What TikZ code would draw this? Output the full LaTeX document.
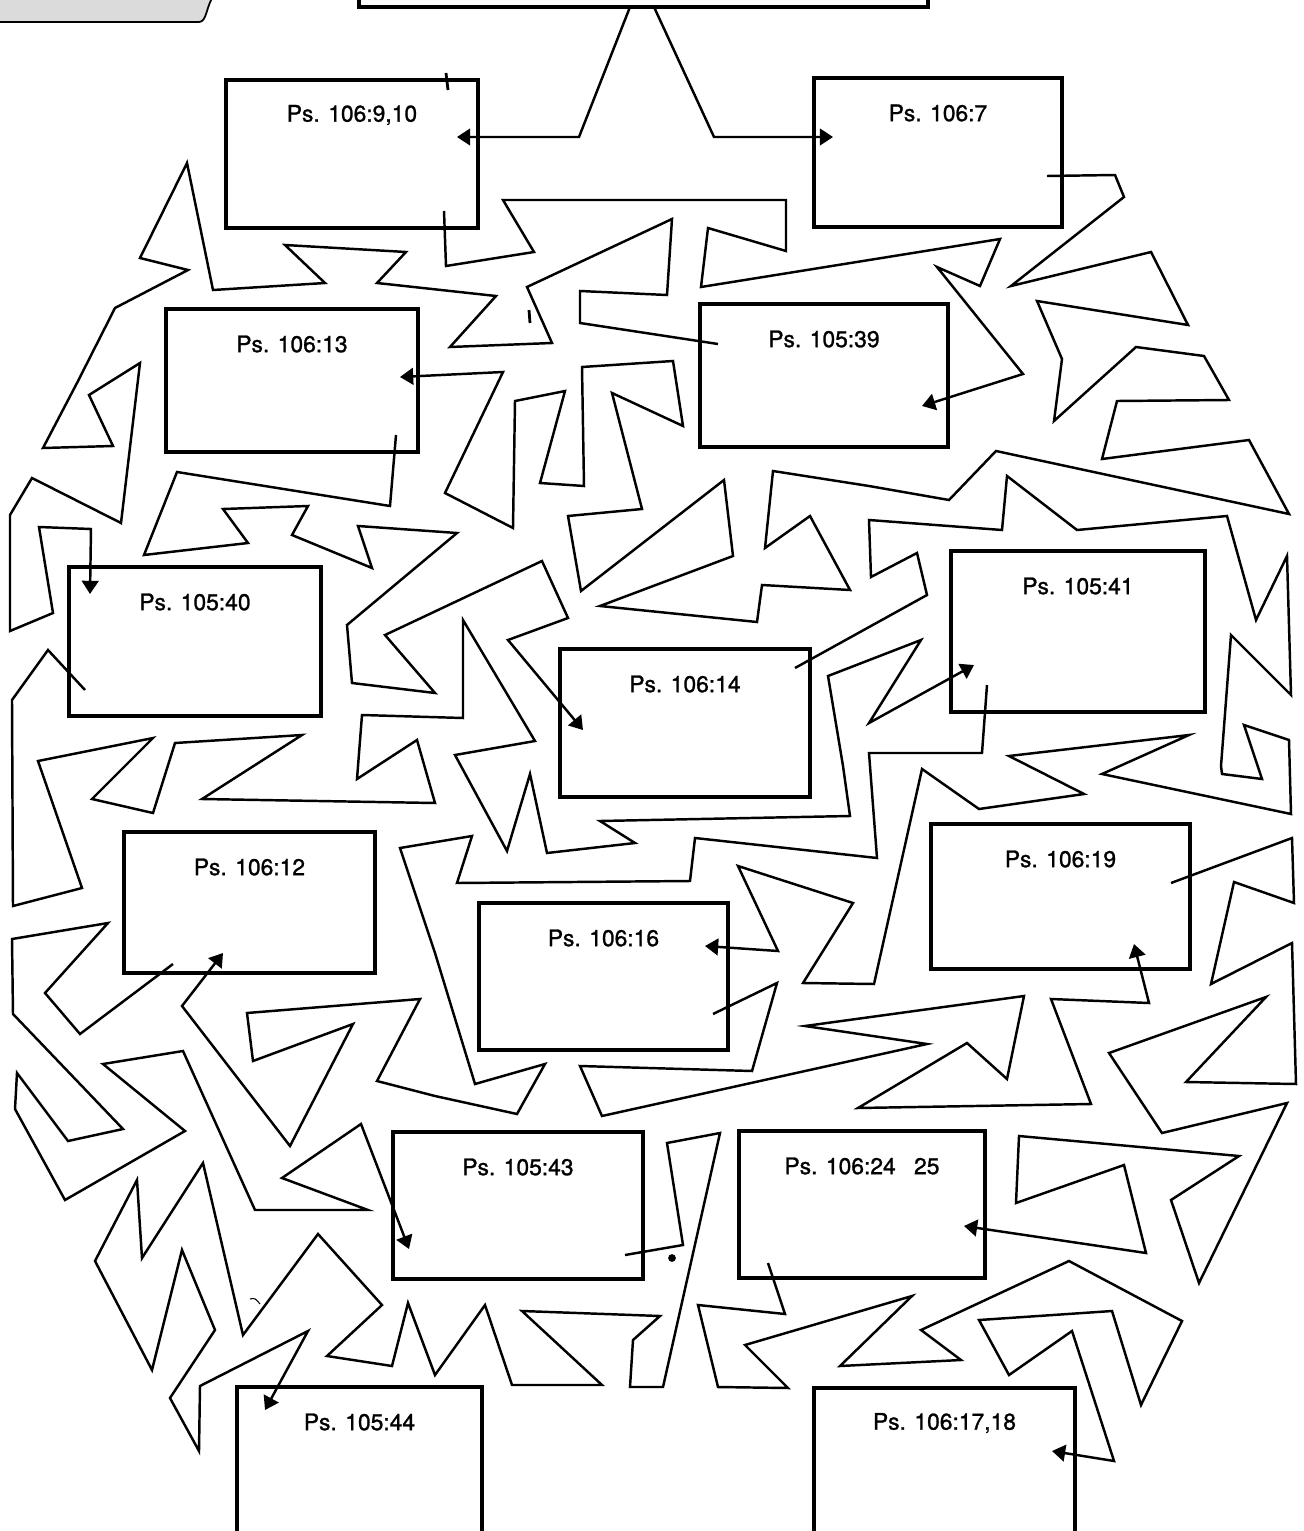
\documentclass[tikz,border=0pt]{standalone}
\usepackage{fontspec}
\setmainfont{TeX Gyre Heros}
\newfontfamily\lblfont{TeX Gyre Heros}[FakeBold=1.2]
\usetikzlibrary{arrows.meta}

\begin{document}
\begin{tikzpicture}[
	x=0.02cm, y=-0.02cm,
	box/.style={draw, line width=2.3pt, outer sep=0pt, inner sep=0pt, anchor=north west},
	lbl/.style={anchor=center, yshift=-0.7cm, font=\lblfont\fontsize{13}{15}\selectfont},
	route/.style={line width=1.4pt, -{Triangle[length=7.5pt, width=9.5pt]}},
	speck/.style={line width=1.6pt},
	tab/.style={draw, fill=black!14, line width=1pt}
	]
	\useasboundingbox (0,0) rectangle (1304,1531);
	\clip (0,0) rectangle (1304,1531);

	% page tab and the box above
	\draw[tab] (-5,-5) -- (-5,22) -- (199,22) .. controls (207,22) and (206,6) .. (214,-5) -- cycle;
	\node[box, minimum width=11.38cm, minimum height=3.14cm] (top) at (359,-150) {};

	\node[box, minimum width=5.04cm, minimum height=2.96cm, label={[lbl]north:{Ps. 106:9,10}}] (p910) at (226,80) {};
	\node[box, minimum width=4.96cm, minimum height=2.98cm, label={[lbl]north:{Ps. 106:7}}] (p7) at (814,78) {};
	\node[box, minimum width=5.04cm, minimum height=2.86cm, label={[lbl]north:{Ps. 106:13}}] (p13) at (166,309) {};
	\node[box, minimum width=4.96cm, minimum height=2.86cm, label={[lbl]north:{Ps. 105:39}}] (p39) at (700,304) {};
	\node[box, minimum width=5.04cm, minimum height=2.98cm, label={[lbl]north:{Ps. 105:40}}] (p40) at (69,567) {};
	\node[box, minimum width=5.00cm, minimum height=2.96cm, label={[lbl]north:{Ps. 106:14}}] (p14) at (560,649) {};
	\node[box, minimum width=5.08cm, minimum height=3.22cm, label={[lbl]north:{Ps. 105:41}}] (p41) at (951,551) {};
	\node[box, minimum width=5.02cm, minimum height=2.82cm, label={[lbl]north:{Ps. 106:12}}] (p12) at (124,832) {};
	\node[box, minimum width=4.98cm, minimum height=2.94cm, label={[lbl]north:{Ps. 106:16}}] (p16) at (479,903) {};
	\node[box, minimum width=5.18cm, minimum height=2.90cm, label={[lbl]north:{Ps. 106:19}}] (p19) at (931,824) {};
	\node[box, minimum width=5.00cm, minimum height=2.94cm, label={[lbl]north:{Ps. 105:43}}] (p43) at (393,1132) {};
	\node[box, minimum width=4.92cm, minimum height=2.94cm, label={[lbl]north:{Ps. 106:24\hspace{0.8em}25}}] (p2425) at (739,1131) {};
	\node[box, minimum width=4.90cm, minimum height=3.60cm, label={[lbl]north:{Ps. 105:44}}] (p44) at (237,1387) {};
	\node[box, minimum width=5.22cm, minimum height=3.60cm, label={[lbl]north:{Ps. 106:17,18}}] (p1718) at (814,1388) {};

	% Connections
	\draw[route] ([shift={(271,0)}]top.south west) -- (579,137) -- ([shift={(231,57)}]p910.north west);
	\draw[route] ([shift={(295,0)}]top.south west) -- (714,137) -- ([shift={(19,59)}]p7.north west);
	\draw[route] ([shift={(218,131)}]p910.north west) -- (446,266) -- (534,252) -- (503,200) -- (786,200) -- (786,251) -- (708,228) -- (701,287) -- (1000,239) -- (980,286) -- (937,267) -- (1023,374) -- ([shift={(222,102)}]p39.north west);
	\draw[route] ([shift={(233,98)}]p7.north west) -- (1115,175) -- (1124,197) -- (1011,286) -- (1151,252) -- (1188,325) -- (1037,301) -- (1062,359) -- (1054,421) -- (1136,347) -- (1204,356) -- (1229,400) -- (1117,401) -- (1102,459) -- (1249,440) -- (1289,514) -- (996,451) -- (949,500) -- (869,486) -- (773,471) -- (765,548) -- (810,516) -- (850,590) -- (762,585) -- (757,622) -- (600,606) -- (733,556) -- (724,480) -- (581,591) -- (568,516) -- (642,509) -- (612,393) -- (683,426) -- (673,361) -- (582,367) -- (584,486) -- (540,483) -- (565,391) -- (515,401) -- (513,528) -- (445,493) -- (503,372) -- ([shift={(234,68)}]p13.north west);
	\draw[route] ([shift={(230,126)}]p13.north west) -- (390,506) -- (177,472) -- (144,555) -- (248,543) -- (223,509) -- (308,506) -- (292,535) -- (372,568) -- (358,526) -- (457,533) -- (347,625) -- (352,683) -- (435,693) -- (385,635) -- (542,561) -- (568,618) -- (508,640) -- ([shift={(23,81)}]p14.north west);
	\draw[route] ([shift={(18,40)}]p39.north west) -- (580,323) -- (580,291) -- (667,295) -- (672,219) -- (527,287) -- (552,343) -- (450,347) -- (496,296) -- (377,283) -- (406,252) -- (285,245) -- (325,283) -- (213,290) -- (187,163) -- (140,258) -- (188,270) -- (115,308) -- (77,383) -- (43,448) -- (113,446) -- (89,395) -- (140,363) -- (121,523) -- (32,478) -- (10,515) -- (10,631) -- (53,613) -- (39,527) -- (91,529) -- ([shift={(21,27)}]p40.north west);
	\draw[route] ([shift={(16,123)}]p40.north west) -- (48,650) -- (12,700) -- (13,906) -- (82,888) -- (38,761) -- (153,738) -- (92,799) -- (153,813) -- (175,743) -- (302,735) -- (202,799) -- (435,803) -- (417,740) -- (357,779) -- (362,715) -- (463,718) -- (463,620) -- (535,741) -- (455,755) -- (507,851) -- (530,774) -- (547,853) -- (635,843) -- (600,821) -- (850,816) -- (843,766) -- (828,676) -- (921,640) -- (869,723) -- ([shift={(23,114)}]p41.north west);
	\draw[route] ([shift={(235,19)}]p14.north west) -- (927,595) -- (917,553) -- (871,577) -- (869,520) -- (1002,530) -- (1007,476) -- (1077,530) -- (1227,516) -- (1256,620) -- (1287,556) -- (1291,695) -- (1231,635) -- (1221,766) -- (1222,774) -- (1262,779) -- (1244,725) -- (1289,740) -- (1291,814) -- (1102,774) -- (1189,735) -- (1009,756) -- (1084,794) -- (979,809) -- (922,769) -- (874,984) -- (803,983) -- (853,903) -- (738,866) -- (778,951) -- ([shift={(226,43)}]p16.north west);
	\draw[route] ([shift={(36,134)}]p41.north west) -- (982,753) -- (869,753) -- (877,858) -- (695,838) -- (690,881) -- (457,883) -- (472,836) -- (400,848) -- (435,953) -- (475,1084) -- (545,1064) -- (517,1114) -- (435,1096) -- (377,1081) -- (420,999) -- (247,1013) -- (253,1061) -- (353,1024) -- (290,1146) -- (182,1006) -- ([shift={(99,121)}]p12.north west);
	\draw[route] ([shift={(49,132)}]p12.north west) -- (80,1034) -- (45,993) -- (108,923) -- (12,939) -- (13,1014) -- (123,1129) -- (68,1141) -- (17,1073) -- (15,1109) -- (65,1200) -- (185,1131) -- (103,1064) -- (183,1051) -- (255,1210) -- (368,1210) -- (282,1178) -- (361,1124) -- ([shift={(16,117)}]p43.north west);
	\draw[route] ([shift={(234,111)}]p16.north west) -- (777,983) -- (752,1071) -- (580,1066) -- (602,1116) -- (927,1044) -- (805,1026) -- (1024,996) -- (1007,1079) -- (967,1043) -- (858,1108) -- (1091,1104) -- (1051,999) -- (1149,1003) -- ([shift={(203,120)}]p19.north west);
	\draw[route] ([shift={(240,59)}]p19.north west) -- (1292,838) -- (1294,903) -- (1234,882) -- (1211,984) -- (1292,943) -- (1296,1084) -- (1186,1082) -- (1266,997) -- (1109,1053) -- (1162,1133) -- (1287,1103) -- (1199,1283) -- (1171,1200) -- (1239,1156) -- (1019,1136) -- (1016,1203) -- (1124,1165) -- (1146,1253) -- ([shift={(225,95)}]p2425.north west);
	\draw[route] ([shift={(232,123)}]p43.north west) -- (683,1245) -- (667,1143) -- (720,1133) -- (663,1387) -- (630,1387) -- (633,1340) -- (660,1316) -- (522,1311) -- (602,1385) -- (512,1385) -- (485,1305) -- (435,1375) -- (408,1303) -- (392,1366) -- (327,1356) -- (382,1305) -- (318,1234) -- (243,1335) -- (203,1163) -- (142,1258) -- (137,1180) -- (95,1261) -- (152,1370) -- (182,1250) -- (215,1330) -- (170,1398) -- (199,1451) -- (200,1386) -- (308,1331) -- ([shift={(28,23)}]p44.north west);
	\draw[route] ([shift={(29,132)}]p2425.north west) -- (785,1314) -- (698,1305) -- (718,1387) -- (788,1388) -- (745,1345) -- (912,1296) -- (840,1366) -- (961,1360) -- (921,1330) -- (1069,1261) -- (1182,1321) -- (1141,1405) -- (1112,1311) -- (979,1320) -- (1009,1375) -- (1072,1331) -- (1114,1461) -- ([shift={(238,63)}]p1718.north west);

	% stray specks of the print
	\draw[speck] (446,73) -- (448,90);
	\draw[speck] (529,310) -- (530,323);
	\fill (672,1258) circle (2.2pt);
	\draw[line width=0.6pt] (250,1299) .. controls (255,1298) .. (260,1304);
\end{tikzpicture}
\end{document}
